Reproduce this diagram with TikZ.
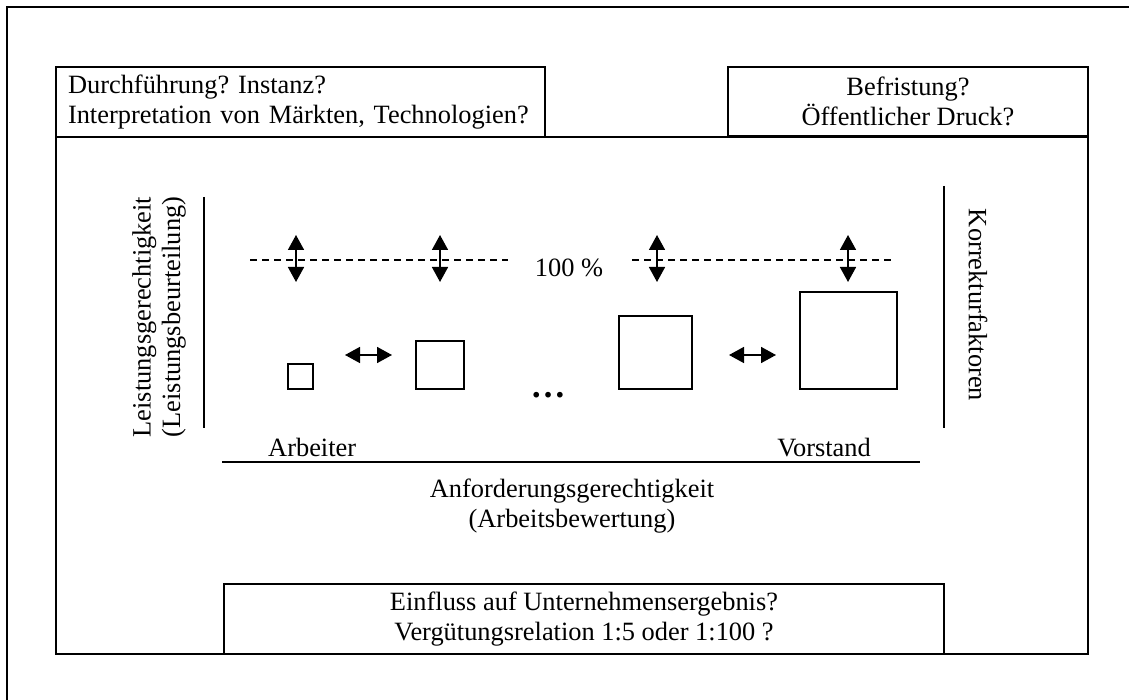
\documentclass[tikz,border=0pt]{standalone}
\usepackage{fontspec}
\setmainfont{Liberation Serif}
\usetikzlibrary{arrows.meta}
\frenchspacing
\begin{document}
\begin{tikzpicture}[x=1pt,y=-1pt,
  frame/.style={line width=1.8pt},
  box/.style={draw, line width=1.8pt, inner ysep=0pt, outer sep=0pt},
  txt/.style={font=\fontsize{26.4}{29.5}\selectfont, inner sep=0pt},
  sq/.style={draw, line width=1.8pt, inner sep=0pt, outer sep=0pt, anchor=south west},
  dbl/.style={line width=1.6pt, {Triangle[width=16pt,length=15pt]}-{Triangle[width=16pt,length=15pt]}},
  axis/.style={line width=1.8pt},
  refline/.style={line width=1.4pt, dash pattern=on 7pt off 5pt}]
\useasboundingbox (0,0) rectangle (1129,700);
% outer frame (cropped)
\draw[frame] (7,700) -- (7,7) -- (1129,7);
% inner frame
\draw[frame] (56,137) rectangle (1088,654);
% boxes
\node[box, txt, anchor=north west, minimum height=70pt, inner xsep=12pt, text width=465pt, align=left] (lbox) at (56,67)
  {Durchführung? Instanz?\\Interpretation von Märkten, Technologien?};
\node[box, txt, anchor=north west, minimum width=360pt, minimum height=69pt, align=center] (rbox) at (728,67)
  {Befristung?\\Öffentlicher Druck?};
\node[box, txt, anchor=north west, minimum width=720pt, minimum height=70pt, align=center] (bbox) at (224,584)
  {Einfluss auf Unternehmensergebnis?\\Vergütungsrelation 1:5 oder 1:100 ?};
% axes
\draw[axis] (204,197) -- (204,428);
\draw[axis] (944,186) -- (944,428);
\draw[axis] (222,462) -- (920,462);
\node[txt, rotate=90, align=center] (left) at (159,317) {Leistungsgerechtigkeit\\(Leistungsbeurteilung)};
\node[txt, rotate=-90] (right) at (978,305) {Korrekturfaktoren};
\node[txt, anchor=base west] (arb) at (268,456) {Arbeiter};
\node[txt, anchor=base east] (vor) at (871,456) {Vorstand};
\node[txt, align=center] (anf) at (572,506) {Anforderungsgerechtigkeit\\(Arbeitsbewertung)};
% 100 % line
\draw[refline] (250,260) -- (508,260);
\draw[refline] (632,260) -- (892,260);
\node[txt, anchor=base] (hundert) at (569,277) {100 \%};
% squares
\node[sq, minimum size=25pt] (s1) at (288,389) {};
\node[sq, minimum size=48pt] (s2) at (416,389) {};
\node[sq, minimum size=73pt] (s3) at (619,389) {};
\node[sq, minimum size=97pt] (s4) at (800,389) {};
\node[font=\fontsize{35}{35}\selectfont\bfseries, inner sep=0pt, anchor=base] (dots) at (548,397) {…};
% vertical arrows
\coordinate (v1t) at (296,235); \coordinate (v1b) at (296,282);
\coordinate (v2t) at (440,235); \coordinate (v2b) at (440,282);
\coordinate (v3t) at (657,235); \coordinate (v3b) at (657,282);
\coordinate (v4t) at (848,235); \coordinate (v4b) at (848,282);
\draw[dbl] (v1t) -- (v1b);
\draw[dbl] (v2t) -- (v2b);
\draw[dbl] (v3t) -- (v3b);
\draw[dbl] (v4t) -- (v4b);
% horizontal arrows
\coordinate (h1l) at (345,355); \coordinate (h1r) at (392,355);
\coordinate (h2l) at (729,355); \coordinate (h2r) at (776,355);
\draw[dbl] (h1l) -- (h1r);
\draw[dbl] (h2l) -- (h2r);
\end{tikzpicture}
\end{document}
